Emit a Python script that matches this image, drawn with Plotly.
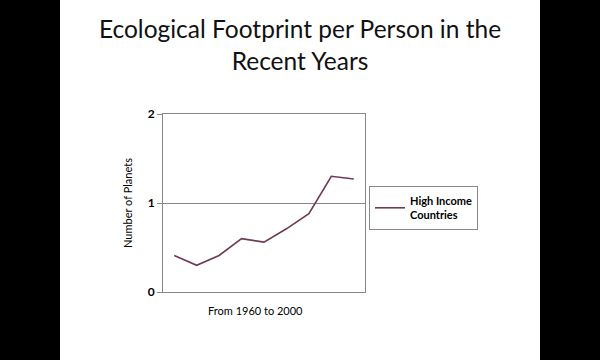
import plotly.graph_objects as go

periods = ["1960", "1965", "1970", "1975", "1980", "1985", "1990", "1995", "2000"]
high_income = [0.41, 0.30, 0.41, 0.60, 0.56, 0.71, 0.88, 1.30, 1.27]
y_ticks = [0, 1, 2]
series_name = "High Income<br>Countries"
x_title = "From 1960 to 2000"

L, R, T, B = 163, 235, 114, 68
W, H = 600, 360
pw, ph = W - L - R, H - T - B

def px_x(p):
    return (p - L) / pw

def px_y(p):
    return (H - B - p) / ph

fig = go.Figure()
fig.add_trace(go.Scatter(
    x=list(range(len(periods))), y=high_income, mode="lines", name=series_name,
    line=dict(color="#6e3a56", width=1.6),
))

fig.update_layout(
    width=W, height=H,
    margin=dict(l=L, r=R, t=T, b=B),
    paper_bgcolor="black", plot_bgcolor="white",
    font=dict(family="Lato, Open Sans, sans-serif", color="black"),
    title=dict(text="Ecological Footprint per Person in the<br>Recent Years",
               x=300 / W, xref="container", xanchor="center",
               y=1 - 38 / H, yref="container", yanchor="middle",
               font=dict(size=24.5, family="Lato, Open Sans, sans-serif", color="#111")),
    showlegend=True,
    legend=dict(x=px_x(369), y=px_y(186), xanchor="left", yanchor="top",
                bordercolor="#888", borderwidth=1, bgcolor="white",
                font=dict(size=11, family="Lato, sans-serif", color="black", weight="bold"),
                itemwidth=30, tracegroupgap=0),
    shapes=[dict(type="rect", xref="paper", yref="paper",
                 x0=px_x(60), x1=px_x(540), y0=px_y(H + 5), y1=px_y(-5),
                 fillcolor="white", line=dict(width=0), layer="below")],
    annotations=[dict(text=x_title, xref="paper", yref="paper",
                      x=px_x(255), y=px_y(310), xanchor="center", yanchor="middle",
                      showarrow=False, font=dict(size=11, color="black"))],
)
fig.update_xaxes(range=[-0.5, len(periods) - 0.5], showticklabels=False, ticks="",
                 showgrid=False, zeroline=False, showline=True, linecolor="#888",
                 linewidth=1, mirror=True)
fig.update_yaxes(range=[0, 2], tickvals=y_ticks, ticks="outside", ticklen=5,
                 tickcolor="#888", showgrid=True, gridcolor="#888", gridwidth=1,
                 zeroline=False, showline=True, linecolor="#888", linewidth=1, mirror=True,
                 tickfont=dict(size=12, weight="bold", color="black"),
                 title=dict(text="Number of Planets", standoff=12,
                            font=dict(size=11, color="black")))

fig.write_html("out.html")
